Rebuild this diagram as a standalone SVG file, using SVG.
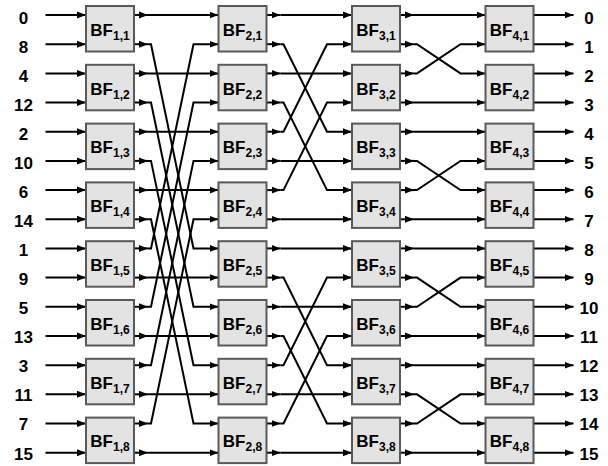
<svg xmlns="http://www.w3.org/2000/svg" width="608" height="466" viewBox="0 0 608 466">
<defs>
<marker id="ah" markerUnits="userSpaceOnUse" markerWidth="10" markerHeight="8" refX="9" refY="4" orient="auto"><path d="M0,0.5 L9,4 L0,7.5 z" fill="#000"/></marker>
<style>
.w{fill:none;stroke:#000;stroke-width:2;marker-end:url(#ah)}
.bx rect{fill:#e3e3e3;stroke:#595959;stroke-width:2}
.bx text{font-family:"Liberation Sans",Arial,sans-serif;font-weight:bold;font-size:17px;text-anchor:middle;fill:#000}
.bx .s{font-size:12px}
.lb{font-family:"Liberation Sans",Arial,sans-serif;font-weight:bold;font-size:17px;text-anchor:middle;fill:#000}
</style>
</defs>
<rect width="608" height="466" fill="#fff"/>
<g id="connectors">
<!-- inputs -->
<path class="w" d="M45.5,15H86"/><path class="w" d="M45.5,44.2H86"/><path class="w" d="M45.5,73.4H86"/><path class="w" d="M45.5,102.5H86"/>
<path class="w" d="M45.5,131.7H86"/><path class="w" d="M45.5,160.9H86"/><path class="w" d="M45.5,190.1H86"/><path class="w" d="M45.5,219.3H86"/>
<path class="w" d="M45.5,248.4H86"/><path class="w" d="M45.5,277.6H86"/><path class="w" d="M45.5,306.8H86"/><path class="w" d="M45.5,336H86"/>
<path class="w" d="M45.5,365.2H86"/><path class="w" d="M45.5,394.3H86"/><path class="w" d="M45.5,423.5H86"/><path class="w" d="M45.5,452.7H86"/>
<!-- stage 1 to 2 -->
<path class="w" d="M134,15H148"/><path class="w" d="M148,15H218.5"/>
<path class="w" d="M134,44.2H148"/><path class="w" d="M148,44.2H151L193.5,248.4H218.5"/>
<path class="w" d="M134,73.4H148"/><path class="w" d="M148,73.4H218.5"/>
<path class="w" d="M134,102.5H148"/><path class="w" d="M148,102.5H151L193.5,306.8H218.5"/>
<path class="w" d="M134,131.7H148"/><path class="w" d="M148,131.7H218.5"/>
<path class="w" d="M134,160.9H148"/><path class="w" d="M148,160.9H151L193.5,365.2H218.5"/>
<path class="w" d="M134,190.1H148"/><path class="w" d="M148,190.1H218.5"/>
<path class="w" d="M134,219.3H148"/><path class="w" d="M148,219.3H151L193.5,423.5H218.5"/>
<path class="w" d="M134,248.4H148"/><path class="w" d="M148,248.4H151L193.5,44.2H218.5"/>
<path class="w" d="M134,277.6H148"/><path class="w" d="M148,277.6H218.5"/>
<path class="w" d="M134,306.8H148"/><path class="w" d="M148,306.8H151L193.5,102.5H218.5"/>
<path class="w" d="M134,336H148"/><path class="w" d="M148,336H218.5"/>
<path class="w" d="M134,365.2H148"/><path class="w" d="M148,365.2H151L193.5,160.9H218.5"/>
<path class="w" d="M134,394.3H148"/><path class="w" d="M148,394.3H218.5"/>
<path class="w" d="M134,423.5H148"/><path class="w" d="M148,423.5H151L193.5,219.3H218.5"/>
<path class="w" d="M134,452.7H148"/><path class="w" d="M148,452.7H218.5"/>
<!-- stage 2 to 3 -->
<path class="w" d="M266.5,15H280.5"/><path class="w" d="M280.5,15H352"/>
<path class="w" d="M266.5,44.2H280.5"/><path class="w" d="M280.5,44.2H283.5L327,131.7H352"/>
<path class="w" d="M266.5,73.4H280.5"/><path class="w" d="M280.5,73.4H352"/>
<path class="w" d="M266.5,102.5H280.5"/><path class="w" d="M280.5,102.5H283.5L327,190.1H352"/>
<path class="w" d="M266.5,131.7H280.5"/><path class="w" d="M280.5,131.7H283.5L327,44.2H352"/>
<path class="w" d="M266.5,160.9H280.5"/><path class="w" d="M280.5,160.9H352"/>
<path class="w" d="M266.5,190.1H280.5"/><path class="w" d="M280.5,190.1H283.5L327,102.5H352"/>
<path class="w" d="M266.5,219.3H280.5"/><path class="w" d="M280.5,219.3H352"/>
<path class="w" d="M266.5,248.4H280.5"/><path class="w" d="M280.5,248.4H352"/>
<path class="w" d="M266.5,277.6H280.5"/><path class="w" d="M280.5,277.6H283.5L327,365.2H352"/>
<path class="w" d="M266.5,306.8H280.5"/><path class="w" d="M280.5,306.8H352"/>
<path class="w" d="M266.5,336H280.5"/><path class="w" d="M280.5,336H283.5L327,423.5H352"/>
<path class="w" d="M266.5,365.2H280.5"/><path class="w" d="M280.5,365.2H283.5L327,277.6H352"/>
<path class="w" d="M266.5,394.3H280.5"/><path class="w" d="M280.5,394.3H352"/>
<path class="w" d="M266.5,423.5H280.5"/><path class="w" d="M280.5,423.5H283.5L327,336H352"/>
<path class="w" d="M266.5,452.7H280.5"/><path class="w" d="M280.5,452.7H352"/>
<!-- stage 3 to 4 -->
<path class="w" d="M400,15H414"/><path class="w" d="M414,15H485.5"/>
<path class="w" d="M400,44.2H414"/><path class="w" d="M414,44.2H417L460.5,73.4H485.5"/>
<path class="w" d="M400,73.4H414"/><path class="w" d="M414,73.4H417L460.5,44.2H485.5"/>
<path class="w" d="M400,102.5H414"/><path class="w" d="M414,102.5H485.5"/>
<path class="w" d="M400,131.7H414"/><path class="w" d="M414,131.7H485.5"/>
<path class="w" d="M400,160.9H414"/><path class="w" d="M414,160.9H417L460.5,190.1H485.5"/>
<path class="w" d="M400,190.1H414"/><path class="w" d="M414,190.1H417L460.5,160.9H485.5"/>
<path class="w" d="M400,219.3H414"/><path class="w" d="M414,219.3H485.5"/>
<path class="w" d="M400,248.4H414"/><path class="w" d="M414,248.4H485.5"/>
<path class="w" d="M400,277.6H414"/><path class="w" d="M414,277.6H417L460.5,306.8H485.5"/>
<path class="w" d="M400,306.8H414"/><path class="w" d="M414,306.8H417L460.5,277.6H485.5"/>
<path class="w" d="M400,336H414"/><path class="w" d="M414,336H485.5"/>
<path class="w" d="M400,365.2H414"/><path class="w" d="M414,365.2H485.5"/>
<path class="w" d="M400,394.3H414"/><path class="w" d="M414,394.3H417L460.5,423.5H485.5"/>
<path class="w" d="M400,423.5H414"/><path class="w" d="M414,423.5H417L460.5,394.3H485.5"/>
<path class="w" d="M400,452.7H414"/><path class="w" d="M414,452.7H485.5"/>
<!-- outputs -->
<path class="w" d="M533.5,15H573.5"/><path class="w" d="M533.5,44.2H573.5"/><path class="w" d="M533.5,73.4H573.5"/><path class="w" d="M533.5,102.5H573.5"/>
<path class="w" d="M533.5,131.7H573.5"/><path class="w" d="M533.5,160.9H573.5"/><path class="w" d="M533.5,190.1H573.5"/><path class="w" d="M533.5,219.3H573.5"/>
<path class="w" d="M533.5,248.4H573.5"/><path class="w" d="M533.5,277.6H573.5"/><path class="w" d="M533.5,306.8H573.5"/><path class="w" d="M533.5,336H573.5"/>
<path class="w" d="M533.5,365.2H573.5"/><path class="w" d="M533.5,394.3H573.5"/><path class="w" d="M533.5,423.5H573.5"/><path class="w" d="M533.5,452.7H573.5"/>
</g>
<g id="input-labels" class="lb">
<text x="23.5" y="24">0</text><text x="23.5" y="53">8</text><text x="23.5" y="82.1">4</text><text x="23.5" y="111.1">12</text>
<text x="23.5" y="140.1">2</text><text x="23.5" y="169.2">10</text><text x="23.5" y="198.2">6</text><text x="23.5" y="227.2">14</text>
<text x="23.5" y="256.2">1</text><text x="23.5" y="285.3">9</text><text x="23.5" y="314.3">5</text><text x="23.5" y="343.3">13</text>
<text x="23.5" y="372.4">3</text><text x="23.5" y="401.4">11</text><text x="23.5" y="430.4">7</text><text x="23.5" y="459.5">15</text>
</g>
<g id="output-labels" class="lb">
<text x="589" y="24">0</text><text x="589" y="53">1</text><text x="589" y="82.1">2</text><text x="589" y="111.1">3</text>
<text x="589" y="140.1">4</text><text x="589" y="169.2">5</text><text x="589" y="198.2">6</text><text x="589" y="227.2">7</text>
<text x="589" y="256.2">8</text><text x="589" y="285.3">9</text><text x="589" y="314.3">10</text><text x="589" y="343.3">11</text>
<text x="589" y="372.4">12</text><text x="589" y="401.4">13</text><text x="589" y="430.4">14</text><text x="589" y="459.5">15</text>
</g>
<g id="bf-1-1" class="bx"><rect x="86" y="6" width="48" height="45.5"/><text x="110" y="35.75">BF<tspan class="s" dy="4">1,1</tspan></text></g>
<g id="bf-1-2" class="bx"><rect x="86" y="64.8" width="48" height="45.5"/><text x="110" y="94.55">BF<tspan class="s" dy="4">1,2</tspan></text></g>
<g id="bf-1-3" class="bx"><rect x="86" y="123.6" width="48" height="45.5"/><text x="110" y="153.35">BF<tspan class="s" dy="4">1,3</tspan></text></g>
<g id="bf-1-4" class="bx"><rect x="86" y="182.4" width="48" height="45.5"/><text x="110" y="212.15">BF<tspan class="s" dy="4">1,4</tspan></text></g>
<g id="bf-1-5" class="bx"><rect x="86" y="241.2" width="48" height="45.5"/><text x="110" y="270.95">BF<tspan class="s" dy="4">1,5</tspan></text></g>
<g id="bf-1-6" class="bx"><rect x="86" y="300" width="48" height="45.5"/><text x="110" y="329.75">BF<tspan class="s" dy="4">1,6</tspan></text></g>
<g id="bf-1-7" class="bx"><rect x="86" y="358.8" width="48" height="45.5"/><text x="110" y="388.55">BF<tspan class="s" dy="4">1,7</tspan></text></g>
<g id="bf-1-8" class="bx"><rect x="86" y="417.6" width="48" height="45.5"/><text x="110" y="447.35">BF<tspan class="s" dy="4">1,8</tspan></text></g>
<g id="bf-2-1" class="bx"><rect x="218.5" y="6" width="48" height="45.5"/><text x="242.5" y="35.75">BF<tspan class="s" dy="4">2,1</tspan></text></g>
<g id="bf-2-2" class="bx"><rect x="218.5" y="64.8" width="48" height="45.5"/><text x="242.5" y="94.55">BF<tspan class="s" dy="4">2,2</tspan></text></g>
<g id="bf-2-3" class="bx"><rect x="218.5" y="123.6" width="48" height="45.5"/><text x="242.5" y="153.35">BF<tspan class="s" dy="4">2,3</tspan></text></g>
<g id="bf-2-4" class="bx"><rect x="218.5" y="182.4" width="48" height="45.5"/><text x="242.5" y="212.15">BF<tspan class="s" dy="4">2,4</tspan></text></g>
<g id="bf-2-5" class="bx"><rect x="218.5" y="241.2" width="48" height="45.5"/><text x="242.5" y="270.95">BF<tspan class="s" dy="4">2,5</tspan></text></g>
<g id="bf-2-6" class="bx"><rect x="218.5" y="300" width="48" height="45.5"/><text x="242.5" y="329.75">BF<tspan class="s" dy="4">2,6</tspan></text></g>
<g id="bf-2-7" class="bx"><rect x="218.5" y="358.8" width="48" height="45.5"/><text x="242.5" y="388.55">BF<tspan class="s" dy="4">2,7</tspan></text></g>
<g id="bf-2-8" class="bx"><rect x="218.5" y="417.6" width="48" height="45.5"/><text x="242.5" y="447.35">BF<tspan class="s" dy="4">2,8</tspan></text></g>
<g id="bf-3-1" class="bx"><rect x="352" y="6" width="48" height="45.5"/><text x="376" y="35.75">BF<tspan class="s" dy="4">3,1</tspan></text></g>
<g id="bf-3-2" class="bx"><rect x="352" y="64.8" width="48" height="45.5"/><text x="376" y="94.55">BF<tspan class="s" dy="4">3,2</tspan></text></g>
<g id="bf-3-3" class="bx"><rect x="352" y="123.6" width="48" height="45.5"/><text x="376" y="153.35">BF<tspan class="s" dy="4">3,3</tspan></text></g>
<g id="bf-3-4" class="bx"><rect x="352" y="182.4" width="48" height="45.5"/><text x="376" y="212.15">BF<tspan class="s" dy="4">3,4</tspan></text></g>
<g id="bf-3-5" class="bx"><rect x="352" y="241.2" width="48" height="45.5"/><text x="376" y="270.95">BF<tspan class="s" dy="4">3,5</tspan></text></g>
<g id="bf-3-6" class="bx"><rect x="352" y="300" width="48" height="45.5"/><text x="376" y="329.75">BF<tspan class="s" dy="4">3,6</tspan></text></g>
<g id="bf-3-7" class="bx"><rect x="352" y="358.8" width="48" height="45.5"/><text x="376" y="388.55">BF<tspan class="s" dy="4">3,7</tspan></text></g>
<g id="bf-3-8" class="bx"><rect x="352" y="417.6" width="48" height="45.5"/><text x="376" y="447.35">BF<tspan class="s" dy="4">3,8</tspan></text></g>
<g id="bf-4-1" class="bx"><rect x="485.5" y="6" width="48" height="45.5"/><text x="509.5" y="35.75">BF<tspan class="s" dy="4">4,1</tspan></text></g>
<g id="bf-4-2" class="bx"><rect x="485.5" y="64.8" width="48" height="45.5"/><text x="509.5" y="94.55">BF<tspan class="s" dy="4">4,2</tspan></text></g>
<g id="bf-4-3" class="bx"><rect x="485.5" y="123.6" width="48" height="45.5"/><text x="509.5" y="153.35">BF<tspan class="s" dy="4">4,3</tspan></text></g>
<g id="bf-4-4" class="bx"><rect x="485.5" y="182.4" width="48" height="45.5"/><text x="509.5" y="212.15">BF<tspan class="s" dy="4">4,4</tspan></text></g>
<g id="bf-4-5" class="bx"><rect x="485.5" y="241.2" width="48" height="45.5"/><text x="509.5" y="270.95">BF<tspan class="s" dy="4">4,5</tspan></text></g>
<g id="bf-4-6" class="bx"><rect x="485.5" y="300" width="48" height="45.5"/><text x="509.5" y="329.75">BF<tspan class="s" dy="4">4,6</tspan></text></g>
<g id="bf-4-7" class="bx"><rect x="485.5" y="358.8" width="48" height="45.5"/><text x="509.5" y="388.55">BF<tspan class="s" dy="4">4,7</tspan></text></g>
<g id="bf-4-8" class="bx"><rect x="485.5" y="417.6" width="48" height="45.5"/><text x="509.5" y="447.35">BF<tspan class="s" dy="4">4,8</tspan></text></g>
</svg>
